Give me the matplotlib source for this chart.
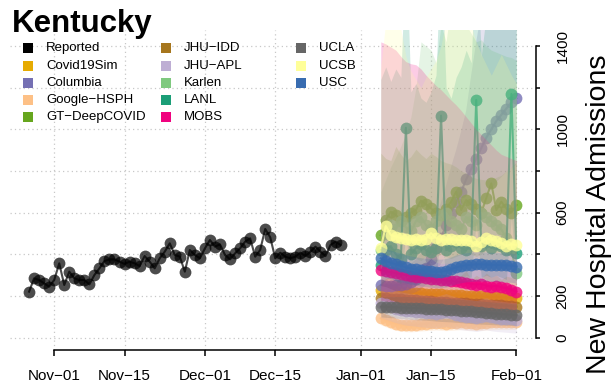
import numpy as np
import pandas as pd
import matplotlib
matplotlib.use('Agg')
import matplotlib.pyplot as plt
import matplotlib.dates as mdates
from matplotlib.patches import Rectangle

plt.rcParams['font.family'] = ['Liberation Sans', 'DejaVu Sans']

# reported daily admissions, Oct 27 -> Dec 28
reported_dates = pd.date_range('2020-10-27', '2020-12-28', freq='D')
reported = [221, 285, 277, 261, 245, 277, 357, 253, 317, 285,
            277, 277, 256, 301, 333, 368, 376, 376, 365, 354,
            365, 357, 344, 392, 365, 333, 381, 413, 453, 397,
            389, 317, 421, 397, 381, 429, 469, 437, 448, 397,
            376, 405, 429, 461, 477, 389, 421, 522, 482, 381,
            408, 389, 381, 389, 408, 392, 413, 437, 413, 392,
            445, 461, 445]

# forecasts, Jan 05 -> Feb 01
fc_dates = pd.date_range('2021-01-05', '2021-02-01', freq='D')

covid19sim_med = [229, 227, 224, 223, 220, 219, 216, 215, 214, 212, 211, 209, 208, 207, 205, 204, 203, 202, 200, 199, 198, 197, 196, 195, 194, 193, 192, 190]
covid19sim_lo = [175, 170, 166, 162, 160, 156, 152, 150, 148, 146, 145, 142, 140, 138, 136, 135, 133, 132, 130, 128, 127, 126, 125, 124, 123, 122, 121, 120]
covid19sim_hi = [260, 285, 300, 270, 310, 280, 305, 320, 285, 310, 290, 320, 300, 280, 310, 290, 300, 320, 280, 300, 285, 310, 290, 300, 280, 295, 290, 285]

columbia_med = [253, 250, 250, 252, 255, 260, 268, 280, 300, 335, 380, 430, 480, 540, 600, 650, 700, 760, 810, 860, 910, 960, 1000, 1040, 1070, 1100, 1130, 1149]
columbia_lo = [200, 198, 197, 198, 200, 204, 210, 218, 232, 255, 285, 320, 355, 395, 435, 470, 505, 545, 580, 615, 650, 685, 715, 745, 770, 795, 815, 830]
columbia_hi = [320, 318, 320, 325, 330, 340, 355, 375, 405, 450, 510, 580, 650, 730, 820, 900, 990, 1090, 1260, 1420, 1560, 1680, 1800, 1900, 2000, 2100, 2200, 2300]

google_med = [93, 85, 75, 68, 62, 61, 60, 62, 65, 68, 70, 72, 70, 68, 70, 72, 75, 72, 70, 68, 70, 72, 74, 75, 76, 76, 77, 77]
google_lo = [62, 52, 42, 36, 31, 29, 28, 30, 32, 34, 35, 37, 35, 34, 35, 37, 39, 37, 35, 34, 35, 37, 38, 39, 39, 39, 40, 40]
google_hi = [128, 122, 112, 106, 100, 98, 97, 100, 104, 108, 110, 114, 110, 108, 111, 114, 118, 114, 111, 108, 111, 114, 116, 117, 118, 118, 119, 120]

gt_med = [492, 565, 605, 590, 560, 580, 600, 613, 658, 640, 621, 600, 590, 620, 653, 701, 613, 661, 640, 620, 600, 670, 741, 613, 653, 620, 600, 637]
gt_lo = [350, 380, 400, 385, 370, 395, 390, 380, 370, 390, 400, 390, 400, 390, 380, 390, 400, 410, 400, 390, 400, 420, 400, 410, 420, 410, 420, 430]
gt_hi = [886, 860, 850, 918, 880, 850, 870, 905, 880, 860, 885, 870, 850, 840, 833, 820, 800, 790, 772, 765, 760, 757, 760, 770, 780, 800, 820, 843]

jhuidd_med = [192, 190, 187, 185, 184, 182, 180, 179, 177, 176, 175, 173, 172, 170, 169, 167, 166, 165, 163, 162, 160, 159, 158, 156, 155, 153, 151, 149]
jhuidd_lo = [120, 118, 116, 114, 113, 111, 110, 108, 107, 106, 105, 103, 102, 101, 100, 98, 97, 96, 95, 94, 92, 91, 90, 89, 88, 87, 86, 85]
jhuidd_hi = [300, 298, 296, 294, 292, 290, 288, 286, 284, 282, 280, 278, 276, 274, 272, 270, 268, 266, 264, 262, 260, 258, 256, 254, 252, 250, 248, 246]

jhuapl_med = [165, 160, 150, 140, 135, 130, 128, 125, 122, 120, 118, 115, 120, 125, 118, 110, 105, 100, 98, 95, 100, 105, 98, 95, 92, 90, 88, 85]
jhuapl_lo = [95, 88, 80, 72, 66, 60, 58, 55, 52, 50, 48, 46, 50, 54, 48, 42, 38, 35, 33, 30, 34, 38, 33, 30, 28, 26, 24, 22]
jhuapl_hi = [250, 245, 235, 225, 220, 215, 212, 210, 206, 204, 200, 198, 205, 212, 203, 195, 190, 185, 182, 178, 185, 192, 182, 178, 175, 172, 170, 168]

karlen_med = [421, 500, 540, 520, 560, 530, 510, 560, 580, 540, 520, 560, 590, 600, 560, 540, 520, 580, 560, 540, 600, 580, 560, 540, 520, 480, 420, 312]
karlen_lo = [300, 320, 330, 320, 330, 320, 310, 320, 330, 310, 300, 310, 320, 320, 300, 290, 280, 300, 290, 280, 290, 280, 270, 260, 250, 240, 220, 200]
karlen_hi = [700, 760, 820, 870, 920, 980, 1060, 1200, 1420, 1400, 1380, 1320, 1500, 1420, 1600, 1600, 1550, 1500, 1460, 1420, 1430, 1400, 1380, 1370, 1360, 1350, 1345, 1330]

lanl_med = [349, 420, 440, 400, 380, 1008, 400, 430, 450, 420, 410, 430, 1066, 420, 440, 460, 430, 420, 450, 1141, 440, 460, 430, 450, 440, 420, 1170, 405]
lanl_lo = [250, 280, 290, 270, 260, 500, 270, 280, 290, 280, 270, 280, 520, 280, 290, 300, 290, 280, 290, 560, 290, 300, 290, 300, 290, 280, 580, 270]
lanl_hi = [1240, 1300, 1230, 1290, 1250, 1900, 1180, 1220, 1150, 1130, 1180, 1260, 1900, 1200, 1150, 1250, 1300, 1380, 1320, 1900, 1350, 1550, 1650, 1700, 1750, 1800, 1900, 1600]

mobs_med = [325, 318, 315, 310, 305, 300, 297, 293, 290, 287, 284, 280, 277, 275, 272, 270, 268, 265, 258, 255, 258, 250, 245, 250, 242, 238, 230, 221]
mobs_lo = [180, 175, 170, 165, 160, 158, 155, 150, 148, 145, 142, 140, 138, 135, 132, 130, 128, 125, 122, 120, 118, 115, 112, 110, 108, 105, 102, 100]
mobs_hi = [1420, 1410, 1395, 1380, 1350, 1325, 1315, 1310, 1290, 1260, 1235, 1210, 1190, 1165, 1140, 1117, 1090, 1060, 1030, 1000, 975, 950, 925, 900, 880, 870, 860, 850]

ucla_med = [149, 148, 147, 146, 145, 144, 143, 142, 141, 140, 139, 138, 136, 135, 134, 132, 130, 128, 126, 124, 122, 120, 118, 116, 114, 112, 110, 109]
ucla_lo = [100, 98, 96, 94, 92, 90, 88, 86, 85, 84, 82, 80, 78, 77, 76, 74, 72, 70, 68, 66, 65, 64, 63, 62, 61, 60, 59, 58]
ucla_hi = [195, 196, 197, 198, 198, 198, 197, 196, 195, 194, 193, 192, 190, 189, 188, 186, 184, 182, 180, 178, 176, 174, 172, 170, 168, 166, 164, 162]

ucsb_med = [430, 536, 493, 485, 478, 474, 470, 472, 468, 475, 502, 478, 470, 472, 474, 470, 468, 470, 464, 440, 460, 478, 470, 465, 455, 440, 448, 445]
ucsb_lo = [330, 400, 380, 370, 365, 360, 355, 358, 355, 360, 380, 362, 355, 358, 360, 355, 352, 355, 350, 330, 345, 360, 355, 350, 340, 330, 335, 332]
ucsb_hi = [1300, 1520, 1560, 1540, 1480, 1350, 1280, 1240, 1200, 1250, 1290, 1330, 1400, 1530, 1560, 1500, 1540, 1560, 1500, 1420, 1360, 1310, 1260, 1310, 1360, 1310, 1260, 1220]

usc_med = [381, 368, 360, 352, 345, 338, 332, 328, 324, 320, 318, 317, 317, 320, 328, 338, 344, 348, 350, 352, 352, 351, 350, 349, 348, 347, 346, 341]
usc_lo = [300, 290, 282, 275, 268, 262, 256, 252, 248, 245, 242, 240, 240, 243, 250, 258, 264, 268, 270, 272, 272, 271, 270, 269, 268, 267, 266, 262]
usc_hi = [440, 428, 420, 412, 405, 398, 392, 388, 384, 380, 378, 377, 377, 380, 388, 398, 404, 408, 410, 412, 412, 411, 410, 409, 408, 407, 406, 401]

models = ['Covid19Sim', 'Columbia', 'Google\u2212HSPH', 'GT\u2212DeepCOVID', 'JHU\u2212IDD',
          'JHU\u2212APL', 'Karlen', 'LANL', 'MOBS', 'UCLA', 'UCSB', 'USC']
colors = ['#E6AB02', '#7570B3', '#FDC086', '#66A61E', '#A6761D',
          '#BEAED4', '#7FC97F', '#1B9E77', '#F0027F', '#666666', '#FFFF99', '#386CB0']
medians = [covid19sim_med, columbia_med, google_med, gt_med, jhuidd_med, jhuapl_med,
           karlen_med, lanl_med, mobs_med, ucla_med, ucsb_med, usc_med]
lowers = [covid19sim_lo, columbia_lo, google_lo, gt_lo, jhuidd_lo, jhuapl_lo,
          karlen_lo, lanl_lo, mobs_lo, ucla_lo, ucsb_lo, usc_lo]
uppers = [covid19sim_hi, columbia_hi, google_hi, gt_hi, jhuidd_hi, jhuapl_hi,
          karlen_hi, lanl_hi, mobs_hi, ucla_hi, ucsb_hi, usc_hi]

tick_dates = pd.to_datetime(['2020-11-01', '2020-11-15', '2020-12-01', '2020-12-15',
                             '2021-01-01', '2021-01-15', '2021-02-01'])
tick_labels = ['Nov\u221201', 'Nov\u221215', 'Dec\u221201', 'Dec\u221215',
               'Jan\u221201', 'Jan\u221215', 'Feb\u221201']
y_ticks = [0, 200, 400, 600, 800, 1000, 1200, 1400]
y_tick_labels = ['0', '200', '', '600', '', '1000', '', '1400']

W, H = 613, 385
fig = plt.figure(figsize=(W / 100, H / 100), dpi=100)
ax = fig.add_axes([10 / W, 35 / H, 526 / W, 320 / H])

nov1 = pd.Timestamp('2020-11-01')
ax.set_xlim(nov1 - pd.Timedelta(days=8.8), nov1 + pd.Timedelta(days=95.9))
ax.set_ylim(-59, 1477)

# dotted grid
for yv in y_ticks:
    ax.axhline(yv, color='#c8c8c8', ls=(0, (1, 2.5)), lw=0.9, zorder=0)
for d in tick_dates:
    ax.axvline(d, color='#c8c8c8', ls=(0, (1, 2.5)), lw=0.9, zorder=0)

ax.plot(reported_dates, reported, '-o', color='black', alpha=0.7, ms=8.5, lw=1.5,
        mec='none', zorder=2)

# each model: band first, then its median line (later bands wash earlier lines)
z = 3
for med, lo, hi, c in zip(medians, lowers, uppers, colors):
    ax.fill_between(fc_dates, lo, hi, color=c, alpha=0.2, lw=0, zorder=z)
    ax.plot(fc_dates, med, '-o', color=c, alpha=0.8, ms=8.5, lw=1.5, mec='none', zorder=z + 0.5)
    z += 1

# axes styling (R base look)
for s in ['top', 'left']:
    ax.spines[s].set_visible(False)
ax.spines['bottom'].set_bounds(mdates.date2num(tick_dates[0]), mdates.date2num(tick_dates[-1]))
ax.spines['right'].set_bounds(0, 1400)
for s in ['bottom', 'right']:
    ax.spines[s].set_linewidth(1.1)
    ax.spines[s].set_zorder(50)

ax.set_xticks(tick_dates)
ax.set_xticklabels(tick_labels)
ax.yaxis.tick_right()
ax.set_yticks(y_ticks)
ax.set_yticklabels(y_tick_labels)
ax.tick_params(axis='x', direction='out', length=4, width=1.1, labelsize=11, pad=10)
ax.tick_params(axis='y', direction='out', length=3, width=1.1, labelsize=11, pad=11)
for lab in ax.get_yticklabels():
    lab.set_rotation(90)
    lab.set_va('center')
    lab.set_ha('left')

fig.text(599 / W, 1 - 214 / H, 'New Hospital Admissions', rotation=90,
         ha='center', va='center', fontsize=20.5)
fig.text(12 / W, 1 - 31.7 / H, 'Kentucky', fontsize=22.5, fontweight='bold',
         ha='left', va='baseline')

# legend, three columns of five rows
leg_names = ['Reported'] + models
leg_colors = ['black'] + colors
col_x = [23, 161, 296]
for i, (name, c) in enumerate(zip(leg_names, leg_colors)):
    col, row = divmod(i, 5)
    y = 48.3 + row * 17.25
    x0 = col_x[col]
    fig.add_artist(Rectangle((x0 / W, 1 - (y + 5) / H), 10 / W, 10 / H,
                             transform=fig.transFigure, color=c, lw=0))
    fig.text((x0 + 23) / W, 1 - y / H, name, fontsize=9.5, va='center', ha='left')

fig.savefig('out.png', dpi=100)
